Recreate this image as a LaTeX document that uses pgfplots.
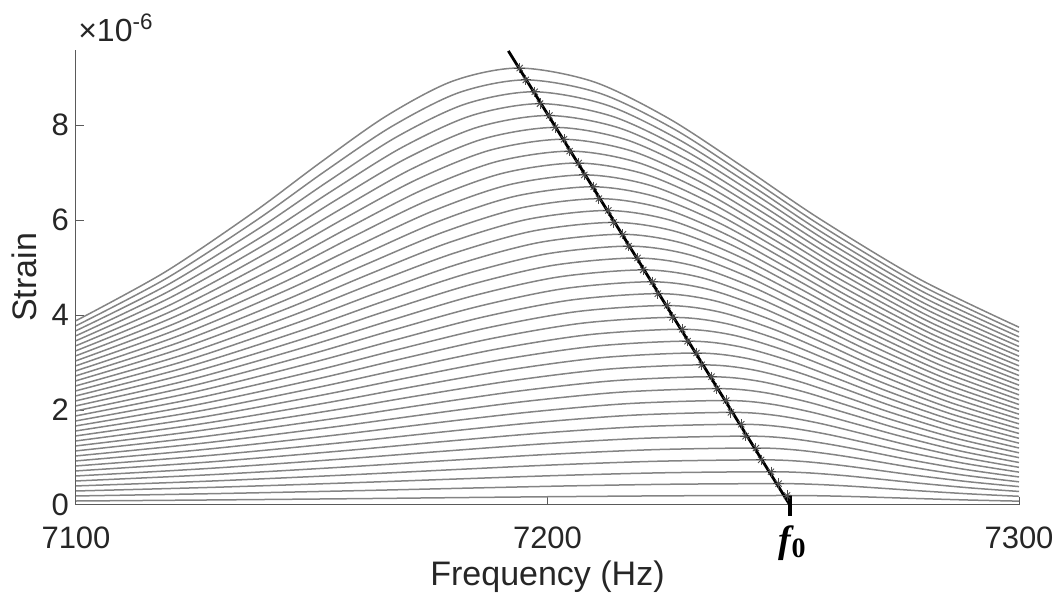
\documentclass[border=0pt]{standalone}
\usepackage{pgfplots}
\pgfplotsset{compat=1.18}
\usepackage{fontspec}
\setmainfont{Liberation Sans}
\newfontfamily\tnr{Liberation Serif}
\definecolor{curvegray}{RGB}{132,132,132}
\definecolor{axgray}{RGB}{90,90,90}
\definecolor{txt}{RGB}{38,38,38}
\begin{document}
\begin{tikzpicture}
\useasboundingbox (-38pt,-49pt) rectangle (492pt,252.5pt);
\begin{axis}[
  at={(0,0)}, anchor=south west,
  scale only axis, width=471.5pt, height=227.5pt,
  xmin=7100, xmax=7300, ymin=0, ymax=9.58,
  axis x line*=bottom, axis y line*=left,
  axis line style={draw=axgray, line width=0.5pt, -},
  xtick={7100,7200,7300}, ytick={0,2,4,6,8},
  tick align=inside, major tick length=4pt,
  tick style={draw=axgray, line width=0.5pt},
  /pgf/number format/1000 sep={},
  /pgf/number format/assume math mode=true,
  tick label style={font=\fontsize{15.5}{18}\selectfont, text=txt},
  xticklabel style={yshift=-7.5pt},
  xlabel={Frequency (Hz)}, ylabel={Strain},
  label style={font=\fontsize{17}{20}\selectfont, text=txt},
  xlabel style={at={(axis description cs:0.5,-0.178)}, anchor=base},
  ylabel style={at={(axis description cs:-0.0424,0.5)}, anchor=base, rotate=0},
  clip=false,
  curve/.style={draw=curvegray, line width=0.75pt, smooth, no marks},
]
\addplot[curve] coordinates {(7100,.084)(7130.0,.107)(7160.1,.134)(7182.6,.157)(7205.1,.178)(7227.6,.194)(7250.2,.2)(7257.6,.194)(7265.1,.177)(7272.6,.154)(7280.1,.131)(7290.0,.103)(7300,.081)};
\addplot[curve] coordinates {(7100,.190)(7129.7,.240)(7159.4,.301)(7181.7,.352)(7204.0,.401)(7226.3,.437)(7248.6,.45)(7256.3,.436)(7264.0,.398)(7271.7,.347)(7279.4,.295)(7289.7,.233)(7300,.183)};
\addplot[curve] coordinates {(7100,.295)(7129.4,.373)(7158.8,.469)(7180.9,.548)(7202.9,.623)(7225.0,.679)(7247.0,.70)(7255.0,.678)(7262.9,.619)(7270.9,.540)(7278.8,.459)(7289.4,.362)(7300,.285)};
\addplot[curve] coordinates {(7100,.401)(7129.1,.506)(7158.2,.636)(7180.0,.744)(7201.8,.846)(7223.7,.922)(7245.5,.95)(7253.7,.920)(7261.8,.840)(7270.0,.733)(7278.2,.623)(7289.1,.492)(7300,.387)};
\addplot[curve] coordinates {(7100,.506)(7128.8,.639)(7157.6,.803)(7179.2,.939)(7200.7,1.068)(7222.3,1.164)(7243.9,1.2)(7252.3,1.162)(7260.7,1.061)(7269.2,.927)(7277.6,.787)(7288.8,.621)(7300,.488)};
\addplot[curve] coordinates {(7100,.611)(7128.5,.772)(7156.9,.971)(7178.3,1.135)(7199.6,1.291)(7221.0,1.407)(7242.3,1.45)(7251.0,1.404)(7259.6,1.282)(7268.3,1.120)(7276.9,.951)(7288.5,.750)(7300,.590)};
\addplot[curve] coordinates {(7100,.717)(7128.2,.905)(7156.3,1.138)(7177.4,1.331)(7198.6,1.513)(7219.7,1.649)(7240.8,1.7)(7249.7,1.646)(7258.6,1.503)(7267.4,1.313)(7276.3,1.115)(7288.2,.880)(7300,.692)};
\addplot[curve] coordinates {(7100,.822)(7127.8,1.039)(7155.7,1.305)(7176.6,1.526)(7197.5,1.736)(7218.3,1.892)(7239.2,1.95)(7248.3,1.888)(7257.5,1.724)(7266.6,1.506)(7275.7,1.279)(7287.8,1.009)(7300,.793)};
\addplot[curve] coordinates {(7100,.928)(7127.5,1.172)(7155.1,1.473)(7175.7,1.722)(7196.4,1.958)(7217.0,2.134)(7237.7,2.2)(7247.0,2.130)(7256.4,1.945)(7265.7,1.699)(7275.1,1.443)(7287.5,1.138)(7300,.895)};
\addplot[curve] coordinates {(7100,1.033)(7127.2,1.305)(7154.4,1.640)(7174.9,1.918)(7195.3,2.181)(7215.7,2.377)(7236.1,2.45)(7245.7,2.372)(7255.3,2.166)(7264.9,1.892)(7274.4,1.607)(7287.2,1.268)(7300,.997)};
\addplot[curve] coordinates {(7100,1.139)(7126.9,1.438)(7153.8,1.807)(7174.0,2.113)(7194.2,2.403)(7214.4,2.619)(7234.5,2.7)(7244.4,2.614)(7254.2,2.387)(7264.0,2.085)(7273.8,1.771)(7286.9,1.397)(7300,1.099)};
\addplot[curve] coordinates {(7100,1.244)(7126.6,1.571)(7153.2,1.975)(7173.1,2.309)(7193.1,2.626)(7213.0,2.862)(7233.0,2.95)(7243.0,2.856)(7253.1,2.608)(7263.1,2.278)(7273.2,1.935)(7286.6,1.526)(7300,1.200)};
\addplot[curve] coordinates {(7100,1.349)(7126.3,1.704)(7152.6,2.142)(7172.3,2.505)(7192.0,2.848)(7211.7,3.104)(7231.4,3.2)(7241.7,3.098)(7252.0,2.829)(7262.3,2.471)(7272.6,2.099)(7286.3,1.656)(7300,1.302)};
\addplot[curve] coordinates {(7100,1.455)(7126.0,1.837)(7151.9,2.309)(7171.4,2.700)(7190.9,3.071)(7210.4,3.347)(7229.9,3.45)(7240.4,3.340)(7250.9,3.050)(7261.4,2.664)(7271.9,2.263)(7286.0,1.785)(7300,1.404)};
\addplot[curve] coordinates {(7100,1.560)(7125.7,1.971)(7151.3,2.477)(7170.6,2.896)(7189.8,3.293)(7209.1,3.589)(7228.3,3.7)(7239.1,3.582)(7249.8,3.271)(7260.6,2.857)(7271.3,2.426)(7285.7,1.914)(7300,1.506)};
\addplot[curve] coordinates {(7100,1.666)(7125.3,2.104)(7150.7,2.644)(7169.7,3.092)(7188.7,3.516)(7207.7,3.832)(7226.7,3.95)(7237.7,3.824)(7248.7,3.492)(7259.7,3.050)(7270.7,2.590)(7285.3,2.044)(7300,1.607)};
\addplot[curve] coordinates {(7100,1.771)(7125.0,2.237)(7150.1,2.811)(7168.8,3.287)(7187.6,3.738)(7206.4,4.074)(7225.2,4.2)(7236.4,4.066)(7247.6,3.713)(7258.8,3.243)(7270.1,2.754)(7285.0,2.173)(7300,1.709)};
\addplot[curve] coordinates {(7100,1.877)(7124.7,2.370)(7149.4,2.979)(7168.0,3.483)(7186.5,3.961)(7205.1,4.317)(7223.6,4.45)(7235.1,4.308)(7246.5,3.934)(7258.0,3.436)(7269.4,2.918)(7284.7,2.302)(7300,1.811)};
\addplot[curve] coordinates {(7100,1.982)(7124.4,2.503)(7148.8,3.146)(7167.1,3.679)(7185.4,4.183)(7203.7,4.559)(7222.1,4.7)(7233.7,4.551)(7245.4,4.155)(7257.1,3.629)(7268.8,3.082)(7284.4,2.432)(7300,1.912)};
\addplot[curve] coordinates {(7100,2.087)(7124.1,2.636)(7148.2,3.314)(7166.3,3.874)(7184.3,4.406)(7202.4,4.802)(7220.5,4.95)(7232.4,4.793)(7244.3,4.376)(7256.3,3.822)(7268.2,3.246)(7284.1,2.561)(7300,2.014)};
\addplot[curve] coordinates {(7100,2.193)(7123.8,2.770)(7147.6,3.481)(7165.4,4.070)(7183.3,4.629)(7201.1,5.045)(7218.9,5.2)(7231.1,5.035)(7243.3,4.597)(7255.4,4.015)(7267.6,3.410)(7283.8,2.690)(7300,2.116)};
\addplot[curve] coordinates {(7100,2.298)(7123.5,2.903)(7147.0,3.648)(7164.6,4.266)(7182.2,4.851)(7199.8,5.287)(7217.4,5.45)(7229.8,5.277)(7242.2,4.818)(7254.6,4.208)(7267.0,3.574)(7283.5,2.820)(7300,2.218)};
\addplot[curve] coordinates {(7100,2.404)(7123.2,3.036)(7146.3,3.816)(7163.7,4.461)(7181.1,5.074)(7198.4,5.530)(7215.8,5.7)(7228.4,5.519)(7241.1,5.039)(7253.7,4.401)(7266.3,3.738)(7283.2,2.949)(7300,2.319)};
\addplot[curve] coordinates {(7100,2.509)(7122.9,3.169)(7145.7,3.983)(7162.8,4.657)(7180.0,5.296)(7197.1,5.772)(7214.2,5.95)(7227.1,5.761)(7240.0,5.260)(7252.8,4.594)(7265.7,3.902)(7282.9,3.079)(7300,2.421)};
\addplot[curve] coordinates {(7100,2.615)(7122.5,3.302)(7145.1,4.150)(7162.0,4.853)(7178.9,5.519)(7195.8,6.015)(7212.7,6.2)(7225.8,6.003)(7238.9,5.481)(7252.0,4.787)(7265.1,4.066)(7282.5,3.208)(7300,2.523)};
\addplot[curve] coordinates {(7100,2.720)(7122.2,3.435)(7144.5,4.318)(7161.1,5.048)(7177.8,5.741)(7194.5,6.257)(7211.1,6.45)(7224.5,6.245)(7237.8,5.702)(7251.1,4.980)(7264.5,4.230)(7282.2,3.337)(7300,2.625)};
\addplot[curve] coordinates {(7100,2.825)(7121.9,3.568)(7143.8,4.485)(7160.3,5.244)(7176.7,5.964)(7193.1,6.500)(7209.6,6.7)(7223.1,6.487)(7236.7,5.923)(7250.3,5.173)(7263.8,4.394)(7281.9,3.467)(7300,2.726)};
\addplot[curve] coordinates {(7100,2.931)(7121.6,3.702)(7143.2,4.652)(7159.4,5.440)(7175.6,6.186)(7191.8,6.742)(7208.0,6.95)(7221.8,6.729)(7235.6,6.144)(7249.4,5.366)(7263.2,4.558)(7281.6,3.596)(7300,2.828)};
\addplot[curve] coordinates {(7100,3.036)(7121.3,3.835)(7142.6,4.820)(7158.5,5.635)(7174.5,6.409)(7190.5,6.985)(7206.4,7.2)(7220.5,6.971)(7234.5,6.365)(7248.5,5.559)(7262.6,4.722)(7281.3,3.725)(7300,2.930)};
\addplot[curve] coordinates {(7100,3.142)(7121.0,3.968)(7142.0,4.987)(7157.7,5.831)(7173.4,6.631)(7189.1,7.227)(7204.9,7.45)(7219.1,7.213)(7233.4,6.586)(7247.7,5.752)(7262.0,4.886)(7281.0,3.855)(7300,3.031)};
\addplot[curve] coordinates {(7100,3.247)(7120.7,4.101)(7141.3,5.154)(7156.8,6.027)(7172.3,6.854)(7187.8,7.470)(7203.3,7.7)(7217.8,7.455)(7232.3,6.807)(7246.8,5.945)(7261.3,5.050)(7280.7,3.984)(7300,3.133)};
\addplot[curve] coordinates {(7100,3.353)(7120.4,4.234)(7140.7,5.322)(7156.0,6.222)(7171.2,7.076)(7186.5,7.712)(7201.8,7.95)(7216.5,7.697)(7231.2,7.028)(7246.0,6.138)(7260.7,5.214)(7280.4,4.113)(7300,3.235)};
\addplot[curve] coordinates {(7100,3.458)(7120.0,4.367)(7140.1,5.489)(7155.1,6.418)(7170.1,7.299)(7185.2,7.955)(7200.2,8.2)(7215.2,7.939)(7230.1,7.249)(7245.1,6.331)(7260.1,5.378)(7280.0,4.243)(7300,3.337)};
\addplot[curve] coordinates {(7100,3.563)(7119.7,4.500)(7139.5,5.656)(7154.3,6.614)(7169.0,7.521)(7183.8,8.197)(7198.6,8.45)(7213.8,8.181)(7229.0,7.470)(7244.3,6.524)(7259.5,5.542)(7279.7,4.372)(7300,3.438)};
\addplot[curve] coordinates {(7100,3.669)(7119.4,4.634)(7138.8,5.824)(7153.4,6.809)(7167.9,7.744)(7182.5,8.440)(7197.1,8.7)(7212.5,8.423)(7227.9,7.691)(7243.4,6.717)(7258.8,5.705)(7279.4,4.501)(7300,3.540)};
\addplot[curve] coordinates {(7100,3.774)(7119.1,4.767)(7138.2,5.991)(7152.5,7.005)(7166.9,7.966)(7181.2,8.682)(7195.5,8.95)(7211.2,8.665)(7226.9,7.912)(7242.5,6.910)(7258.2,5.869)(7279.1,4.631)(7300,3.642)};
\addplot[curve] coordinates {(7100,3.880)(7118.8,4.900)(7137.6,6.158)(7151.7,7.201)(7165.8,8.189)(7179.9,8.925)(7194.0,9.2)(7209.9,8.907)(7225.8,8.133)(7241.7,7.103)(7257.6,6.033)(7278.8,4.760)(7300,3.743)};
% peak markers (MATLAB-style asterisk = plus + cross)
\pgfplotstableread{
x y
7250.8 .2
7249.0 .45
7247.4 .70
7245.3 .95
7244.2 1.2
7242.0 1.45
7241.1 1.7
7238.9 1.95
7237.9 2.2
7235.9 2.45
7234.8 2.7
7232.7 2.95
7231.6 3.2
7229.7 3.45
7228.6 3.7
7226.5 3.95
7225.4 4.2
7223.4 4.45
7222.3 4.7
7220.3 4.95
7219.1 5.2
7217.2 5.45
7216.0 5.7
7214.0 5.95
7212.9 6.2
7210.9 6.45
7209.8 6.7
7207.8 6.95
7206.6 7.2
7204.7 7.45
7203.5 7.7
7201.6 7.95
7200.4 8.2
7198.4 8.45
7197.3 8.7
7195.4 8.95
7194.1 9.2
}\peaks
\addplot[only marks, mark=+, mark size=2.6pt, draw=black!70, mark options={line width=0.45pt}] table {\peaks};
\addplot[only marks, mark=x, mark size=2.2pt, draw=black!70, mark options={line width=0.45pt}] table {\peaks};
% fitted line
\addplot[black, line width=1.4pt, no marks] coordinates {(7191.7,9.56)(7251.4,0)};
% f0 marker
\addplot[black, line width=2pt, no marks] coordinates {(7251.4,0.21)(7251.4,-0.23)};
\node[anchor=base west, inner sep=0pt] at (axis cs:7249.0,-0.99) {{\tnr\bfseries\itshape\fontsize{19}{20}\selectfont f}{\tnr\bfseries\fontsize{14}{15}\selectfont\raisebox{-2.5pt}{0}}};
\node[anchor=base west, inner sep=0pt, text=txt, font=\fontsize{16}{18}\selectfont] at (axis description cs:0.002,1.0176) {×10\textsuperscript{-6}};
\end{axis}
\end{tikzpicture}
\end{document}
